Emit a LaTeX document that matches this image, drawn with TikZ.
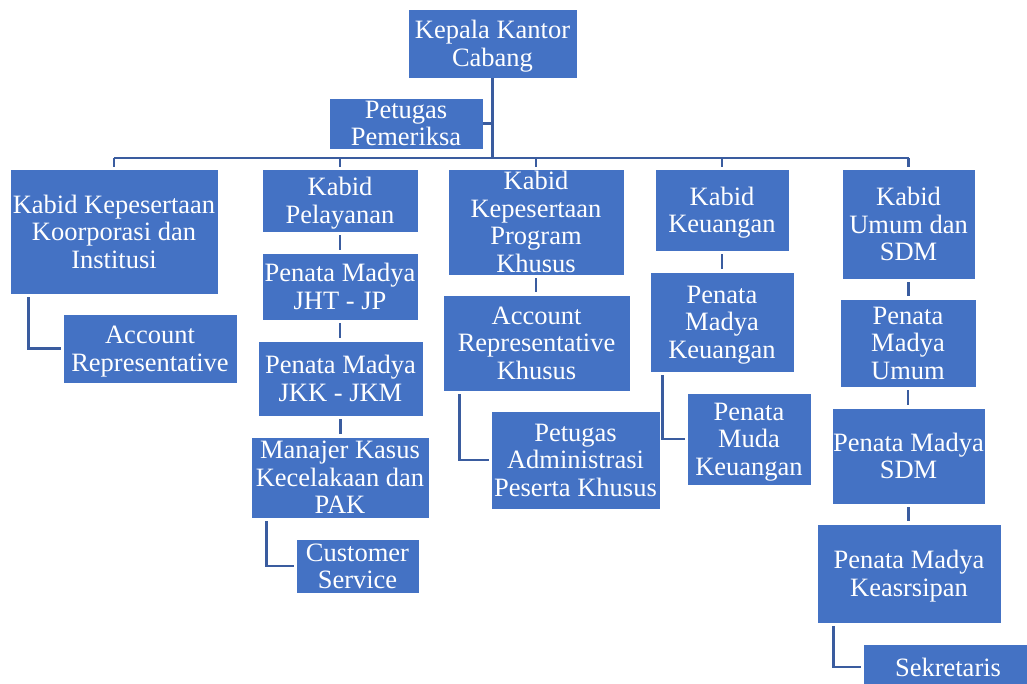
\documentclass[tikz,border=0pt]{standalone}
\usepackage{fontspec}
\setmainfont{Liberation Serif}
\definecolor{boxblue}{HTML}{4472C4}
\definecolor{lineblue}{HTML}{3A5C9F}
\begin{document}
\begin{tikzpicture}[x=1pt,y=-1pt,
  orgbox/.style={rectangle, fill=boxblue, draw=white, line width=0.8pt, text=white,
    inner sep=0pt, align=center, text depth=0pt, font=\fontsize{26.5}{27.5}\selectfont},
  link/.style={draw=lineblue, line width=2.6pt},
  vlink/.style={link, shorten <=3pt, shorten >=3pt},
  elbow/.style={link, shorten <=3pt, shorten >=2pt}]
\useasboundingbox (0,0) rectangle (1027,683);
\clip (0,0) rectangle (1027,683);

% nodes
\node[orgbox, minimum width=169pt, minimum height=69pt] (kepala) at (492.5,43.5) {Kepala Kantor\\Cabang};
\node[orgbox, minimum width=154pt, minimum height=51pt] (pemeriksa) at (406,123.5) {Petugas\\Pemeriksa};

\node[orgbox, minimum width=208pt, minimum height=125pt] (k1) at (114,231.5) {Kabid Kepesertaan\\Koorporasi dan\\Institusi};
\node[orgbox, minimum width=174pt, minimum height=69pt] (ar1) at (150,348.5) {Account\\Representative};

\node[orgbox, minimum width=156pt, minimum height=63pt] (k2) at (340,200.5) {Kabid\\Pelayanan};
\node[orgbox, minimum width=156pt, minimum height=67pt] (jht) at (340,286.5) {Penata Madya\\JHT - JP};
\node[orgbox, minimum width=165pt, minimum height=75pt] (jkk) at (340.5,378.5) {Penata Madya\\JKK - JKM};
\node[orgbox, minimum width=178pt, minimum height=81pt] (mk) at (340,477.5) {Manajer Kasus\\Kecelakaan dan\\PAK};
\node[orgbox, minimum width=123pt, minimum height=54pt] (cs) at (357.5,566) {Customer\\Service};

\node[orgbox, minimum width=176pt, minimum height=106pt] (k3) at (536,222) {Kabid\\Kepesertaan\\Program\\Khusus};
\node[orgbox, minimum width=187pt, minimum height=96pt] (ark) at (536.5,343) {Account\\Representative\\Khusus};
\node[orgbox, minimum width=169pt, minimum height=98pt] (pa) at (575.5,460) {Petugas\\Administrasi\\Peserta Khusus};

\node[orgbox, minimum width=134pt, minimum height=82pt] (k4) at (722,210) {Kabid\\Keuangan};
\node[orgbox, minimum width=144pt, minimum height=100pt] (pmk) at (722,322) {Penata\\Madya\\Keuangan};
\node[orgbox, minimum width=124pt, minimum height=92pt] (pmuk) at (749,439) {Penata\\Muda\\Keuangan};

\node[orgbox, minimum width=133pt, minimum height=110pt] (k5) at (908.5,224) {Kabid\\Umum dan\\SDM};
\node[orgbox, minimum width=136pt, minimum height=88pt] (pmu) at (908,343) {Penata\\Madya\\Umum};
\node[orgbox, minimum width=153pt, minimum height=96pt] (pms) at (908.5,456) {Penata Madya\\SDM};
\node[orgbox, minimum width=184pt, minimum height=99pt] (pmka) at (909,573.5) {Penata Madya\\Keasrsipan};
\node[orgbox, minimum width=170pt, minimum height=46pt] (sek) at (948,667) {Sekretaris};

% connectors
\coordinate (hub) at (493,158);
\draw[link] (kepala.south) -- (kepala.south |- hub);
\draw[link] (pemeriksa.east) -- (pemeriksa.east -| hub);
\draw[link] (k1.north |- hub) -- (k5.north |- hub);
\foreach \k in {k1,k2,k3,k4,k5}
  \draw[link, shorten >=2pt] (\k.north |- hub) -- (\k.north);

\draw[vlink] (k2.south) -- (k2.south |- jht.north);
\draw[vlink] (jht.south) -- (jht.south |- jkk.north);
\draw[vlink] (jkk.south) -- (jkk.south |- mk.north);
\draw[vlink] (k3.south) -- (k3.south |- ark.north);
\draw[vlink] (k4.south) -- (k4.south |- pmk.north);
\draw[vlink] (k5.south) -- (k5.south |- pmu.north);
\draw[vlink] (pmu.south) -- (pmu.south |- pms.north);
\draw[vlink] (pms.south) -- (pms.south |- pmka.north);

\draw[elbow] ([xshift=19pt]k1.south west) |- (ar1.west);
\draw[elbow] ([xshift=16pt]mk.south west) |- (cs.west);
\draw[elbow] ([xshift=17pt]ark.south west) |- (pa.west);
\draw[elbow] ([xshift=13pt]pmk.south west) |- (pmuk.west);
\draw[elbow] ([xshift=17pt]pmka.south west) |- (sek.west);
\end{tikzpicture}
\end{document}
